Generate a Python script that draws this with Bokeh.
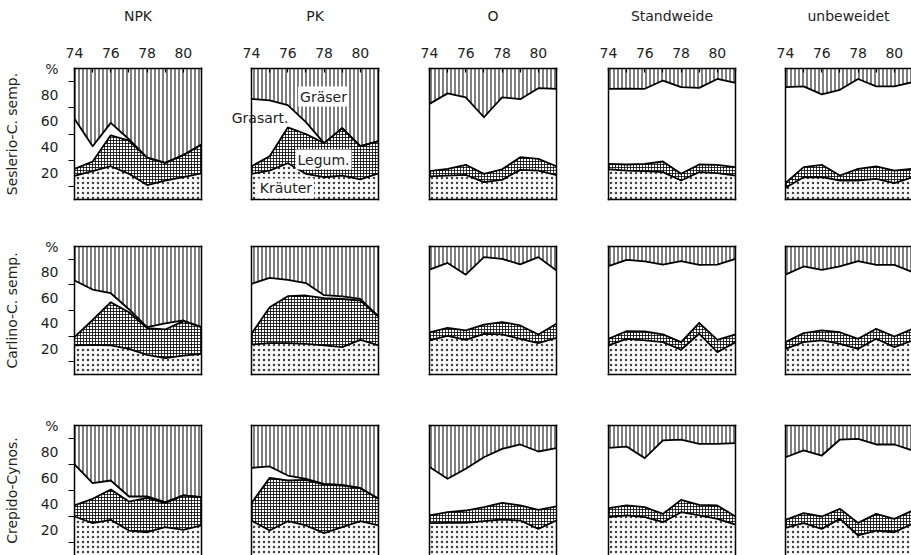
from bokeh.plotting import figure
from bokeh.layouts import column, row
from bokeh.models import Range1d, LinearAxis, FixedTicker, Label
from bokeh.embed import file_html
from bokeh.resources import INLINE

years = [74, 75, 76, 77, 78, 79, 80, 81]
regimes = ["NPK", "PK", "O", "Standweide", "unbeweidet"]
communities = ["Seslerio-C. semp.", "Carlino-C. semp.", "Crepido-Cynos."]
total = 100
year_labels = [74, 76, 78, 80]
year_minor = [75, 77, 79, 81]
pct_ticks = [20, 40, 60, 80, 100]
pct_minor = [10, 30, 50, 70, 90]

# upper edge (cumulative %) of Kräuter, Legum. and Grasart.; Gräser fill up to 100 %
# order of rows inside each list: NPK, PK, O, Standweide, unbeweidet
seslerio_kraeuter = [
    [18, 21.6, 25.4, 19.6, 11, 14.5, 17, 20],
    [19.6, 22, 27.7, 19.6, 17, 18.3, 15.3, 20],
    [17.6, 18.3, 18.8, 13.2, 15, 22.6, 22, 18.6],
    [23, 22, 21.6, 20.9, 14.5, 20.9, 20.1, 18.3],
    [8.9, 17, 17, 14.5, 14.5, 15.8, 12.5, 17],
]
seslerio_legum = [
    [23.4, 29, 49, 45, 32, 28, 34, 42],
    [25.4, 33, 55, 50, 43, 54.5, 40.7, 44.5],
    [21.6, 23.4, 26.5, 19.6, 23, 32.3, 31, 25.4],
    [27.2, 26.7, 27.2, 29, 19.6, 26.7, 26.5, 24.7],
    [12.5, 24.7, 26.5, 18.3, 23.4, 25.2, 22, 23.4],
]
seslerio_grasart = [
    [61.6, 40.7, 58.5, 46, 32, 28, 34, 42],
    [76.8, 75.6, 72, 59, 43, 54.5, 40.7, 44.5],
    [73, 81, 78, 62.8, 78, 76.6, 85, 84.5],
    [84.5, 84.7, 84.5, 90.8, 85.8, 85.2, 92, 89],
    [85.8, 86.3, 80.2, 83.7, 92, 86.3, 86.3, 89.6],
]

carlino_kraeuter = [
    [22.7, 23.2, 22.7, 20, 15.4, 12.8, 14.8, 16.1],
    [23.4, 24.5, 24.5, 24, 22.7, 21.4, 27, 22.7],
    [26.6, 30.2, 27, 31.8, 31.3, 27.9, 24.5, 28.6],
    [22.7, 27.9, 26.6, 25.3, 19.3, 31.8, 17.4, 25.3],
    [20, 25.3, 26.6, 24, 20, 27.9, 21.4, 26.5],
]
carlino_legum = [
    [29.2, 42.7, 56.5, 48.7, 36.2, 35.2, 41.7, 37],
    [31.8, 52.6, 61.2, 61.7, 59.6, 59, 57.8, 45.3],
    [33, 36.5, 34.4, 39, 41, 38.3, 31.3, 39.6],
    [27.9, 33.9, 33.6, 31.3, 25.3, 40.4, 27.1, 31.3],
    [25.3, 32.3, 34.4, 33, 27.9, 35.7, 29.7, 35.7],
]
carlino_grasart = [
    [73.4, 66.4, 63.5, 51, 37, 40, 42.2, 37],
    [70.8, 75.5, 74, 71.4, 62, 61, 59, 45.3],
    [82, 87.2, 78, 91.7, 90.4, 86, 91.7, 81.3],
    [84.6, 89.6, 88.3, 85.9, 88.5, 85.7, 85.9, 90.4],
    [78, 84.4, 81.8, 84.4, 88.5, 85.7, 85.7, 80],
]

crepido_kraeuter = [
    [30, 24.9, 27.4, 19.2, 17.9, 21.8, 19.7, 23.1],
    [26.9, 19.2, 26.4, 23.1, 17.2, 21.8, 26.4, 23.1],
    [24.9, 25.1, 25.1, 26.4, 27.7, 26.9, 20.5, 26.9],
    [29.5, 30.8, 29.5, 25.6, 33.3, 30.8, 28.2, 23.8],
    [21.3, 24.9, 20.5, 28.2, 15.4, 19.2, 17.9, 24.4],
]
crepido_legum = [
    [38.5, 43.6, 50.8, 41.5, 44.4, 40.3, 46.2, 44.9],
    [40.3, 59.7, 57.7, 58.2, 54.6, 53.8, 51.8, 43.6],
    [30.8, 33.3, 34.6, 37.2, 40.5, 38.5, 35.1, 37.7],
    [36.4, 38.5, 37.2, 32, 42.8, 39, 38.5, 30],
    [27.4, 32.6, 30, 35.9, 25.1, 32, 28.2, 34.6],
]
crepido_grasart = [
    [70, 55.6, 57.7, 45.4, 45.4, 41, 46.2, 44.9],
    [67.4, 68.5, 61.5, 59, 55.1, 54.4, 52, 43.6],
    [68, 59, 66.7, 75.6, 82, 85.4, 80, 82.6],
    [82.8, 83.8, 74.9, 88.5, 89.2, 85.9, 85.9, 86.4],
    [75.6, 80.8, 76.9, 89.2, 89.7, 85.4, 85.4, 80.8],
]

kraeuter = [seslerio_kraeuter, carlino_kraeuter, crepido_kraeuter]
legum = [seslerio_legum, carlino_legum, crepido_legum]
grasart = [seslerio_grasart, carlino_grasart, crepido_grasart]

# layout (pixels); the gap between NPK and PK is shared 10 | 40 so that the
# overhanging "Grasart." key fits into PK's left border
FONT = "DejaVu Sans"
INK = "#1e1e1e"
col_left = [74, 40, 25, 25, 25]
col_right = [10, 26, 27, 25, 0]
frame_w = [127, 127, 127, 127, 126]
row_top = [68, 24, 26]
row_bottom = [23, 25, 0]
frame_h = [131, 128, 130]
px_per_year = 127 / 7

AXIS_PROPS = set(LinearAxis.properties())


def border_axis(**kw):
    ax = LinearAxis(ticker=FixedTicker(ticks=kw.pop("ticks", [])), major_tick_line_color=None,
                    minor_tick_line_color=None, major_tick_out=0, major_tick_in=0,
                    axis_line_color="black", axis_line_width=1.5, axis_line_cap="square", **kw)
    if not kw:
        ax.major_label_text_font_size = "0px"
        ax.major_label_standoff = 0
    return ax


def make_panel(r, c):
    x_end = 74 + frame_w[c] / px_per_year
    p = figure(frame_width=frame_w[c], frame_height=frame_h[r],
               x_range=Range1d(74, x_end), y_range=Range1d(0, total),
               output_backend="svg", toolbar_location=None,
               x_axis_location=None, y_axis_location=None,
               min_border_left=col_left[c], min_border_right=col_right[c],
               min_border_top=row_top[r], min_border_bottom=row_bottom[r],
               outline_line_color=None, background_fill_color="white",
               border_fill_color="white")
    p.grid.grid_line_color = None

    k = kraeuter[r][c]
    l = legum[r][c]
    g = grasart[r][c]
    top = [total] * len(years)

    p.varea(x=years, y1=[0] * len(years), y2=k, fill_color="white",
            hatch_pattern="dot", hatch_scale=5, hatch_color="black", hatch_alpha=0.75)
    p.varea(x=years, y1=k, y2=l, fill_color="white",
            hatch_pattern="cross", hatch_scale=3, hatch_weight=0.8, hatch_color="black")
    p.varea(x=years, y1=l, y2=g, fill_color="white")
    p.varea(x=years, y1=g, y2=top, fill_color="white",
            hatch_pattern="vertical_line", hatch_scale=4, hatch_weight=1, hatch_color="black")
    for s in (k, l, g):
        p.line(years, s, line_color="black", line_width=1.8, line_join="round")

    # top edge
    if r == 0:
        ax = LinearAxis(ticker=FixedTicker(ticks=year_labels, minor_ticks=year_minor),
                        axis_label=regimes[c], axis_label_standoff=21,
                        axis_label_text_font=FONT, axis_label_text_font_size="14px",
                        axis_label_text_font_style="normal", axis_label_text_color=INK,
                        major_label_text_font=FONT, major_label_text_font_size="14px",
                        major_label_text_color=INK, major_label_standoff=11,
                        major_tick_in=4, major_tick_out=0, minor_tick_in=4, minor_tick_out=0,
                        major_tick_line_width=1.2, minor_tick_line_width=1.2,
                        axis_line_color="black", axis_line_width=1.5, axis_line_cap="square")
        p.add_layout(ax, "above")
    else:
        p.add_layout(border_axis(), "above")
    # left edge
    if c == 0:
        ay = LinearAxis(ticker=FixedTicker(ticks=pct_ticks, minor_ticks=pct_minor),
                        major_label_overrides={100: "%"},
                        axis_label=communities[r], axis_label_standoff=18,
                        axis_label_text_font=FONT, axis_label_text_font_size="14px",
                        axis_label_text_font_style="normal", axis_label_text_color=INK,
                        major_label_text_font=FONT, major_label_text_font_size="14px",
                        major_label_text_color=INK, major_label_standoff=10,
                        major_tick_in=0, major_tick_out=0, minor_tick_in=0, minor_tick_out=6,
                        minor_tick_line_width=1.2,
                        axis_line_color="black", axis_line_width=1.5, axis_line_cap="square")
        p.add_layout(ay, "left")
    elif r == 0 and c == 1:
        # the "Grasart." key label hangs out of the frame on the left
        ay = border_axis(ticks=[62], major_label_overrides={62: "Grasart."},
                         major_label_standoff=-37, major_label_text_font=FONT,
                         major_label_text_font_size="14px", major_label_text_color=INK)
        if "major_label_background_fill_color" in AXIS_PROPS:
            ay.major_label_background_fill_color = "white"
        p.add_layout(ay, "left")
    else:
        p.add_layout(border_axis(), "left")
    if c < 4:
        p.add_layout(border_axis(), "right")
    if r < 2:
        p.add_layout(border_axis(), "below")

    if r == 0 and c == 1:
        for txt, x, y in [("Gräser", 77.97, 78.6),
                          ("Legum.", 77.97, 30.5),
                          ("Kräuter", 75.9, 8.4)]:
            p.add_layout(Label(x=x, y=y, text=txt, text_align="center", text_baseline="middle",
                               text_font=FONT, text_font_size="14px", text_color=INK,
                               background_fill_color="white", padding=2))
    return p


rows = []
for r in range(3):
    rows.append(row(*[make_panel(r, c) for c in range(5)], spacing=0))
layout = column(*rows, spacing=0)

open("out.html", "w").write(file_html(layout, INLINE))
